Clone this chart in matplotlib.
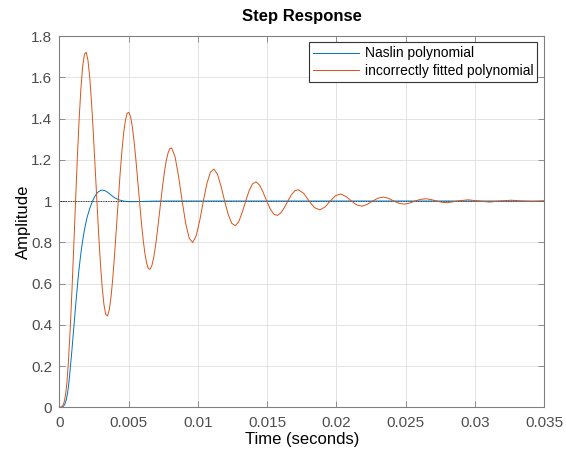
import matplotlib
matplotlib.use("Agg")
import matplotlib.pyplot as plt

# ---- data ----
t_naslin = [0, 0.0002, 0.0003, 0.0004, 0.0005, 0.0006, 0.0007, 0.0008, 0.0009, 0.0010,
            0.0011, 0.0012, 0.0013, 0.0014, 0.0015, 0.0016, 0.0017, 0.0018, 0.0019, 0.0020,
            0.0022, 0.0024, 0.0026, 0.0028, 0.0030, 0.0031,
            0.0033, 0.0035, 0.0037, 0.0039, 0.0041, 0.0043, 0.0045, 0.0047,
            0.0050, 0.0055, 0.0060, 0.0068, 0.0080, 0.035]
y_naslin = [0, 0.0, 0.005, 0.015, 0.035, 0.07, 0.125, 0.195, 0.27, 0.35,
            0.43, 0.51, 0.585, 0.655, 0.715, 0.77, 0.815, 0.855, 0.89, 0.92,
            0.965, 1.0, 1.027, 1.044, 1.052, 1.053,
            1.050, 1.042, 1.031, 1.020, 1.012, 1.006, 1.002, 0.999,
            0.997, 0.997, 0.998, 0.9995, 1.0, 1.0]

t_fitted = [0, 0.00015, 0.00025, 0.00035, 0.00045, 0.00055, 0.00066, 0.000788, 0.000916, 0.001044,
            0.001172, 0.0013, 0.001428, 0.001556, 0.001684, 0.001812,
            0.00194, 0.002068, 0.002197, 0.002325, 0.002453, 0.002582, 0.00271, 0.002838, 0.002967,
            0.003095, 0.003223, 0.003352,
            0.00348, 0.003608, 0.003737, 0.003865, 0.003993, 0.004122, 0.00425, 0.004378, 0.004507,
            0.004635, 0.004763, 0.004892,
            0.00502, 0.005148, 0.005275, 0.005403, 0.00553, 0.005658, 0.005785, 0.005913, 0.00604,
            0.006168, 0.006295, 0.006423,
            0.00655, 0.006679, 0.006808, 0.006938, 0.007067, 0.007196, 0.007325, 0.007454, 0.007583,
            0.007713, 0.007842, 0.007971,
            0.0081, 0.008355, 0.00861, 0.008865, 0.00912, 0.009375,
            0.00963, 0.009885, 0.01014, 0.010395, 0.01065, 0.010905,
            0.01116, 0.011417, 0.011673, 0.01193, 0.012187, 0.012443,
            0.0127, 0.01295, 0.0132, 0.01345, 0.0137, 0.01395,
            0.0142, 0.014455, 0.01471, 0.014965, 0.01522, 0.015475,
            0.01573, 0.015983, 0.016237, 0.01649, 0.016743, 0.016997,
            0.01725, 0.017638, 0.018025, 0.018413,
            0.0188, 0.019175, 0.01955, 0.019925,
            0.0203, 0.020688, 0.021075, 0.021463,
            0.02185, 0.022233, 0.022615, 0.022998,
            0.02338, 0.02376, 0.02414, 0.02452,
            0.0249, 0.025288, 0.025675, 0.026063,
            0.02645, 0.026838, 0.027225, 0.027613,
            0.028, 0.02875, 0.0295, 0.030275, 0.03105, 0.031825, 0.0326, 0.033375, 0.03415,
            0.0349, 0.035]
y_fitted = [0, 0.002, 0.008, 0.025, 0.06, 0.12, 0.225, 0.381, 0.572, 0.783,
            1.000, 1.208, 1.393, 1.544, 1.652, 1.712,
            1.721, 1.682, 1.598, 1.478, 1.331, 1.168, 1.000, 0.840, 0.697,
            0.580, 0.497, 0.450,
            0.443, 0.474, 0.538, 0.631, 0.745, 0.871, 1.000, 1.124, 1.235,
            1.325, 1.389, 1.425,
            1.430, 1.407, 1.357, 1.285, 1.197, 1.100, 1.000, 0.904, 0.819,
            0.750, 0.700, 0.673,
            0.669, 0.687, 0.725, 0.780, 0.848, 0.923, 1.000, 1.074, 1.140,
            1.194, 1.232, 1.254,
            1.257, 1.214, 1.118, 1.000, 0.891, 0.819,
            0.799, 0.833, 0.908, 1.000, 1.085, 1.140,
            1.155, 1.129, 1.071, 1.000, 0.935, 0.892,
            0.880, 0.900, 0.945, 1.000, 1.051, 1.084,
            1.093, 1.077, 1.042, 1.000, 0.962, 0.936,
            0.930, 0.942, 0.968, 1.000, 1.030, 1.050,
            1.055, 1.037, 1.000, 0.968,
            0.957, 0.971, 1.000, 1.026,
            1.034, 1.022, 1.000, 0.981,
            0.975, 0.984, 1.000, 1.014,
            1.019, 1.013, 1.000, 0.989,
            0.985, 0.990, 1.000, 1.008,
            1.011, 1.007, 1.000, 0.994,
            0.992, 1.000, 1.006, 1.000, 0.995, 1.000, 1.004, 1.000, 0.997,
            1.000, 1.0005]

x_ticks = [0, 0.005, 0.01, 0.015, 0.02, 0.025, 0.03, 0.035]
x_tick_labels = ["0", "0.005", "0.01", "0.015", "0.02", "0.025", "0.03", "0.035"]
y_ticks = [0, 0.2, 0.4, 0.6, 0.8, 1.0, 1.2, 1.4, 1.6, 1.8]
y_tick_labels = ["0", "0.2", "0.4", "0.6", "0.8", "1", "1.2", "1.4", "1.6", "1.8"]
steady_state = 1.0
series_labels = ["Naslin polynomial", "incorrectly fitted polynomial"]

# ---- figure ----
plt.rcParams['font.family'] = ['Liberation Sans', 'DejaVu Sans']
fig = plt.figure(figsize=(5.66, 4.53), dpi=100)
ax = fig.add_axes([0.1048, 0.1009, 0.8569, 0.8196])

blue = '#0072BD'
orange = '#D95319'

ax.axhline(steady_state, color='k', linestyle=(0, (1, 1)), linewidth=0.6, zorder=1.5)
ax.plot(t_naslin, y_naslin, color=blue, linewidth=0.7, label=series_labels[0], zorder=2)
ax.plot(t_fitted, y_fitted, color=orange, linewidth=0.7, label=series_labels[1], zorder=2.1)

ax.set_xlim(0, 0.035)
ax.set_ylim(0, 1.8)
ax.set_xticks(x_ticks)
ax.set_xticklabels(x_tick_labels)
ax.set_yticks(y_ticks)
ax.set_yticklabels(y_tick_labels)

ax.grid(True, color='#dedede', linewidth=0.6)
ax.set_axisbelow(True)

spine_color = '#808080'
for s in ax.spines.values():
    s.set_color(spine_color)
    s.set_linewidth(0.8)
ax.tick_params(axis='both', which='both', direction='in', length=4, width=0.6,
               colors=spine_color, labelcolor='#4d4d4d', labelsize=11,
               top=True, right=True)
ax.tick_params(axis='x', pad=6)
ax.tick_params(axis='y', pad=5)

ax.set_xlabel("Time (seconds)", fontsize=12, color='k', labelpad=2)
ax.set_ylabel("Amplitude", fontsize=12, color='k', labelpad=0)
ax.set_title("Step Response", fontsize=12, fontweight='bold', color='k', pad=11)

leg = ax.legend(loc='upper right', bbox_to_anchor=(0.9856, 0.983), borderaxespad=0,
                fontsize=10, frameon=True, fancybox=False, framealpha=1,
                edgecolor='#333333', handlelength=3.3, handletextpad=0.4,
                labelspacing=0.25, borderpad=0.3)
leg.get_frame().set_linewidth(0.8)

fig.savefig("out.png", dpi=100)
